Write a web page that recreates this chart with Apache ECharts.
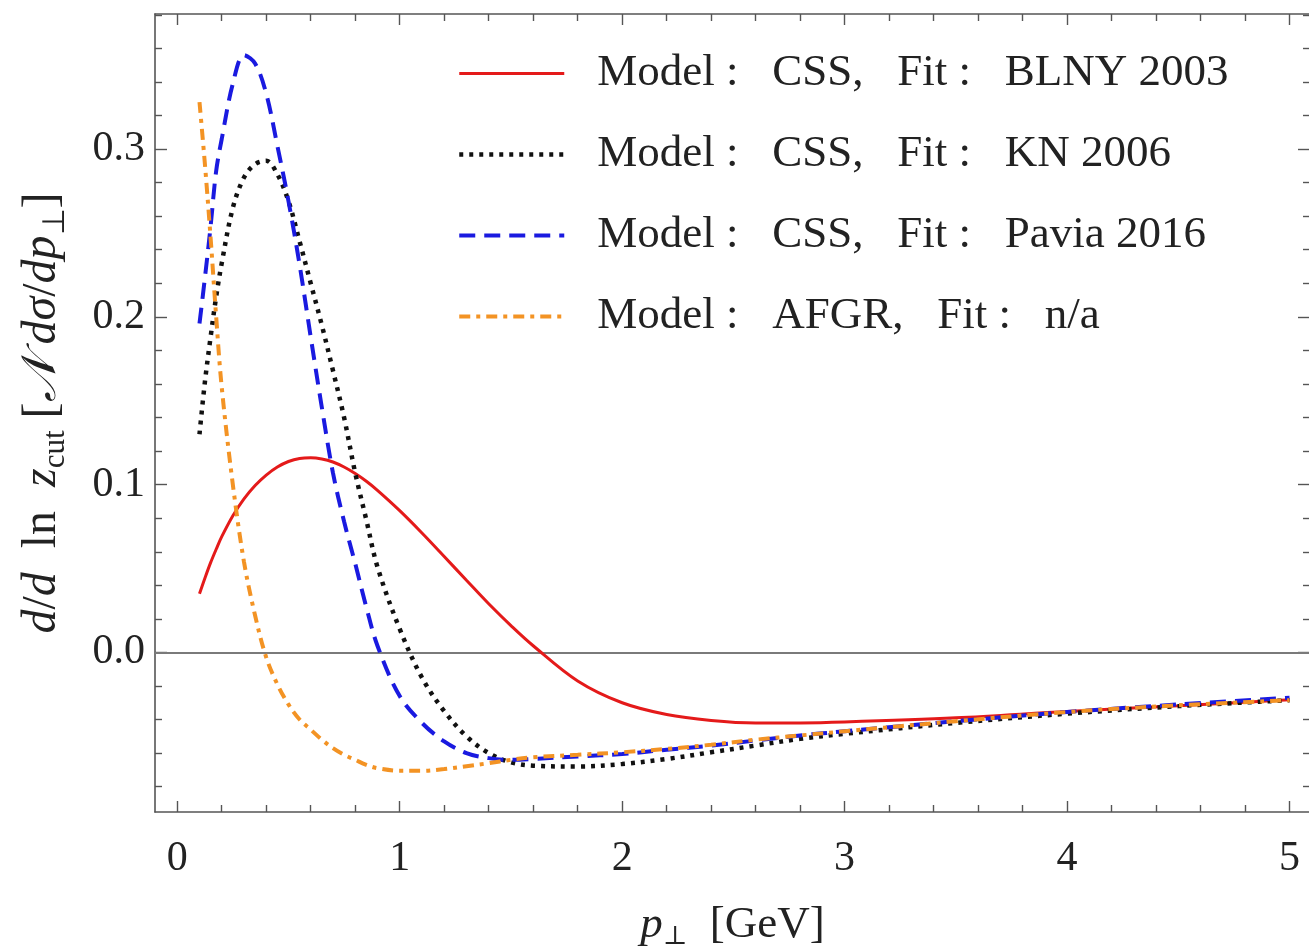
<!DOCTYPE html>
<html>
<head>
<meta charset="utf-8">
<script src="https://cdn.jsdelivr.net/npm/echarts@6/dist/echarts.min.js"></script>
<style>
html,body{margin:0;padding:0;background:#fff;}
#chart{width:1309px;height:949px;}
</style>
</head>
<body>
<div id="chart"></div>
<script>
// ---- data ----
const pT = [0.1,0.125,0.15,0.175,0.2,0.25,0.3,0.35,0.4,0.45,0.5,0.55,0.6,0.65,0.7,0.75,0.8,0.85,0.9,1.0,1.1,1.2,1.3,1.4,1.5,1.6,1.8,2.0,2.2,2.4,2.6,2.8,3.0,3.5,4.0,4.5,5.0];
const blny2003 = [0.035,0.0445,0.0535,0.0615,0.069,0.0815,0.0915,0.0995,0.1057,0.1105,0.1138,0.1156,0.116,0.1153,0.1135,0.1105,0.1066,0.102,0.0966,0.0845,0.0712,0.0572,0.043,0.029,0.016,0.004,-0.017,-0.030,-0.037,-0.0405,-0.042,-0.042,-0.0415,-0.039,-0.0352,-0.0318,-0.0282];
const kn2006 = [0.130,0.162,0.188,0.212,0.232,0.265,0.283,0.291,0.293,0.285,0.269,0.245,0.220,0.195,0.168,0.140,0.107,0.079,0.051,0.014,-0.015,-0.035,-0.050,-0.060,-0.0655,-0.0675,-0.068,-0.0665,-0.0635,-0.0595,-0.0555,-0.0515,-0.0485,-0.042,-0.0365,-0.032,-0.0285];
const pavia2016 = [0.196,0.224,0.254,0.287,0.306,0.339,0.356,0.351,0.333,0.302,0.269,0.231,0.188,0.146,0.107,0.078,0.053,0.027,0.004,-0.026,-0.042,-0.053,-0.060,-0.063,-0.064,-0.0635,-0.062,-0.0605,-0.058,-0.0555,-0.0525,-0.0495,-0.047,-0.041,-0.0355,-0.031,-0.027];
const afgr = [0.328,0.290,0.247,0.200,0.158,0.100,0.054,0.022,-0.003,-0.019,-0.031,-0.040,-0.046,-0.052,-0.057,-0.061,-0.064,-0.067,-0.069,-0.0705,-0.0705,-0.0695,-0.0678,-0.066,-0.064,-0.0625,-0.061,-0.0595,-0.0575,-0.055,-0.052,-0.0495,-0.047,-0.041,-0.0355,-0.0315,-0.0285];
const seriesNames = ['Model :   CSS,   Fit :   BLNY 2003','Model :   CSS,   Fit :   KN 2006','Model :   CSS,   Fit :   Pavia 2016','Model :   AFGR,   Fit :   n/a'];
const xMajorTicks = [0,1,2,3,4,5];
const xMinorTicks = [0.2,0.4,0.6,0.8,1.2,1.4,1.6,1.8,2.2,2.4,2.6,2.8,3.2,3.4,3.6,3.8,4.2,4.4,4.6,4.8];
const yMajorTicks = [0,0.1,0.2,0.3];
const yMinorTicks = [-0.08,-0.06,-0.04,-0.02,0.02,0.04,0.06,0.08,0.12,0.14,0.16,0.18,0.22,0.24,0.26,0.28,0.32,0.34,0.36,0.38];

// ---- styling ----
const FONT = 'Liberation Serif';
const FRAME = '#555555';
const xMin = -0.1, xMax = 5.092, yMin = -0.0951, yMax = 0.3805;

function pairs(ys){ return pT.map((x,i)=>[x, ys[i]]); }

function xAx(pos, ticks, len, withLine, withLabel, extra){
  return Object.assign({
    type:'value', position:pos, min:xMin, max:xMax, gridIndex:0,
    axisLine:{show:withLine, onZero:false, lineStyle:{color:FRAME, width:1.6}},
    axisTick:{show:true, inside:true, length:len, customValues:ticks, lineStyle:{color:FRAME, width:1.4}},
    axisLabel:{show:withLabel, customValues:ticks, margin:26, fontFamily:FONT, fontSize:42, color:'#222', formatter:v=>String(v)},
    splitLine:{show:false}
  }, extra||{});
}
function yAx(pos, ticks, len, withLine, withLabel, extra){
  return Object.assign({
    type:'value', position:pos, min:yMin, max:yMax, gridIndex:0,
    axisLine:{show:withLine, onZero:false, lineStyle:{color:FRAME, width:1.6}},
    axisTick:{show:true, inside:true, length:len, customValues:ticks, lineStyle:{color:FRAME, width:1.4}},
    axisLabel:{show:withLabel, customValues:ticks, margin:10, fontFamily:FONT, fontSize:42, color:'#222', formatter:v=>v.toFixed(1)},
    splitLine:{show:false}
  }, extra||{});
}

const chart = echarts.init(document.getElementById('chart'), null, {renderer:'canvas'});

const lineDefs = [
  {data:blny2003, color:'#e41a1a', width:3, type:'solid'},
  {data:kn2006, color:'#111111', width:4.5, type:[4,6]},
  {data:pavia2016, color:'#1a1ae0', width:4, type:[16,9]},
  {data:afgr, color:'#f39324', width:4, type:[11,6,4,6]}
];

const series = lineDefs.map((d,i)=>({
  name: seriesNames[i], type:'line', xAxisIndex:0, yAxisIndex:0,
  data: pairs(d.data), showSymbol:false, symbol:'none', smooth:0.35,
  lineStyle:{color:d.color, width:d.width, type:d.type, cap:'butt'},
  itemStyle:{color:d.color}, z: 3+i, animation:false,
  markLine: i===0 ? {silent:true, symbol:'none', label:{show:false}, animation:false,
    lineStyle:{color:'#7a7a7a', width:1.8, type:'solid'}, data:[{yAxis:0}], z:1} : undefined
}));

chart.setOption({
  animation:false,
  backgroundColor:'#ffffff',
  grid:{left:155, top:14, right:-1, bottom:137, containLabel:false, outerBoundsMode:'none'},
  legend:{
    orient:'vertical', left:452, top:46, itemWidth:105, itemHeight:20, itemGap:36,
    data: seriesNames,
    itemStyle:{opacity:0, borderWidth:0},
    lineStyle:{width:'inherit'},
    textStyle:{fontFamily:FONT, fontSize:45, color:'#222', padding:[0,0,0,28]}
  },
  xAxis:[
    xAx('bottom', xMajorTicks, 11, true, true, {
      name:'{i|p}{s|⊥}  [GeV]', nameLocation:'middle', nameGap:88,
      nameTextStyle:{fontFamily:FONT, fontSize:45, color:'#222',
        rich:{i:{fontFamily:FONT, fontStyle:'italic', fontSize:45, color:'#222'},
              s:{fontFamily:'DejaVu Serif', fontSize:26, color:'#222', padding:[24,0,0,0]}}}
    }),
    xAx('bottom', xMinorTicks, 7, false, false),
    xAx('top', xMajorTicks, 11, true, false),
    xAx('top', xMinorTicks, 7, false, false)
  ],
  yAxis:[
    yAx('left', yMajorTicks, 12, true, true, {
      name:'{i|d}/{i|d}  ln  {i|z}{s|cut} [{i|𝒩 dσ}/{i|dp}{s|⊥}]', nameLocation:'middle', nameGap:84,
      nameTextStyle:{fontFamily:FONT, fontSize:48, color:'#222',
        rich:{i:{fontFamily:FONT, fontStyle:'italic', fontSize:48, color:'#222'},
              s:{fontFamily:FONT, fontSize:31, color:'#222', padding:[26,0,0,0]}}}
    }),
    yAx('left', yMinorTicks, 7, false, false),
    yAx('right', yMajorTicks, 12, true, false),
    yAx('right', yMinorTicks, 7, false, false)
  ],
  series: series
});
</script>
</body>
</html>
